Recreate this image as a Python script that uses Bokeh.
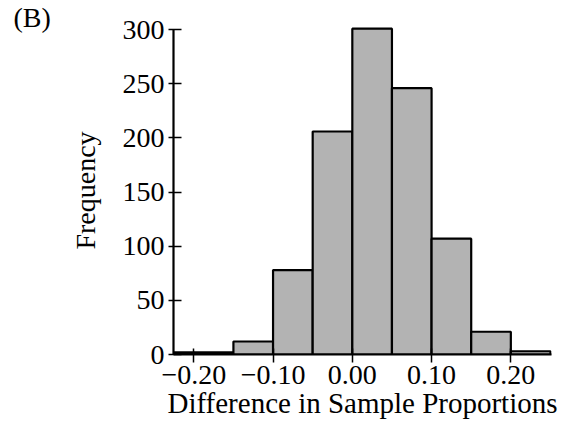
from bokeh.plotting import figure
from bokeh.models import Range1d, FixedTicker
from bokeh.embed import file_html
from bokeh.resources import INLINE

# data
bin_left = [-0.25, -0.20, -0.15, -0.10, -0.05, 0.00, 0.05, 0.10, 0.15, 0.20]
bin_right = [-0.20, -0.15, -0.10, -0.05, 0.00, 0.05, 0.10, 0.15, 0.20, 0.25]
counts = [2, 2, 12, 78, 206, 301, 246, 107, 21, 3]
x_ticks = [-0.20, -0.10, 0.00, 0.10, 0.20]
x_tick_labels = ["\u22120.20", "\u22120.10", "0.00", "0.10", "0.20"]
y_ticks = [0, 50, 100, 150, 200, 250, 300]
panel_tag = "(B)"

FONT = "Liberation Serif"

p = figure(width=565, height=431, output_backend="svg", toolbar_location=None,
           x_range=Range1d(-0.2256, 0.2513), y_range=Range1d(0, 303),
           min_border_left=173, min_border_right=14, min_border_top=26, min_border_bottom=77)
p.outline_line_color = None
p.grid.visible = False
p.background_fill_color = "white"
p.border_fill_color = "white"

p.title.text = panel_tag
p.title.align = "left"
p.title.offset = -160
p.title.standoff = -12
p.title.text_font = FONT
p.title.text_font_size = "28px"
p.title.text_font_style = "normal"
p.title.text_color = "black"
p.title.text_line_height = 0.8

p.quad(left=bin_left, right=bin_right, bottom=0, top=counts,
       fill_color="#b3b3b3", line_color="black", line_width=2.2)

xa = p.xaxis[0]
xa.ticker = FixedTicker(ticks=x_ticks)
xa.major_label_overrides = {t: l for t, l in zip(x_ticks, x_tick_labels)}
xa.axis_label = "Difference in Sample Proportions"
xa.minor_tick_line_color = None
xa.major_tick_in = 6
xa.major_tick_out = 8
xa.axis_line_width = 2.2
xa.major_tick_line_width = 1.5

ya = p.yaxis[0]
ya.ticker = FixedTicker(ticks=y_ticks)
ya.bounds = (0, 300)
ya.axis_label = "Frequency"
ya.minor_tick_line_color = None
ya.major_tick_in = 8
ya.major_tick_out = 5
ya.axis_line_width = 2.2
ya.major_tick_line_width = 1.5

for ax in (xa, ya):
    ax.major_label_text_font = FONT
    ax.major_label_text_font_size = "28px"
    ax.major_label_text_color = "black"
    ax.axis_label_text_font = FONT
    ax.axis_label_text_font_size = "28px"
    ax.axis_label_text_font_style = "normal"
    ax.axis_label_text_color = "black"
    ax.axis_line_color = "black"
    ax.major_tick_line_color = "black"
xa.axis_label_text_font_size = "29px"

xa.major_label_standoff = 3
xa.axis_label_standoff = 0
ya.major_label_standoff = 4
ya.axis_label_standoff = 19

open("out.html", "w").write(file_html(p, INLINE))
